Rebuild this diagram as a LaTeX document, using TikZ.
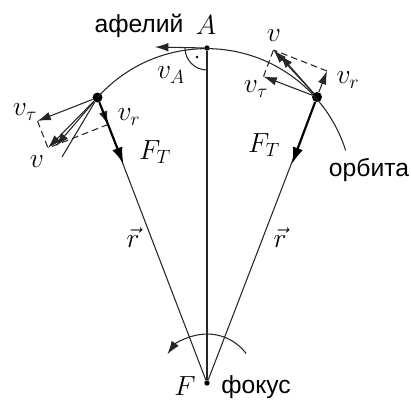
\documentclass[tikz,border=0pt]{standalone}
\usepackage{amsmath}
\usepackage{fontspec}
\newfontfamily\rufont{Liberation Sans}
\usetikzlibrary{arrows.meta,positioning,calc}

\tikzset{
	orb/.style={draw=black!85,line width=0.8pt},
	vec/.style={draw=black!85,line width=0.8pt,-{Latex[length=10pt,width=6.5pt]}},
	force/.style={draw=black,line width=1.6pt,-{Latex[length=12.5pt,width=8pt]}},
	comp/.style={draw=black!85,line width=0.8pt,dash pattern=on 5pt off 3pt},
	mlab/.style={font=\fontsize{22}{26}\selectfont,inner sep=0pt},
	tlab/.style={font=\rufont\fontsize{18.5}{22}\selectfont,inner sep=0pt},
	bigdot/.style={circle,fill=black,inner sep=0pt,minimum size=7.5pt},
	smalldot/.style={circle,fill=black,inner sep=0pt,minimum size=4pt},
	tinydot/.style={circle,fill=black,inner sep=0pt,minimum size=2.2pt}
}

\begin{document}
\begin{tikzpicture}[x=0.75pt,y=-0.75pt]
		
		\useasboundingbox (0,0) rectangle (411,401);
		
		\node[smalldot] (A) at (207,48) {};
		\node[smalldot] (F) at (207,383) {};
		\node[bigdot] (L) at (97.5,97.5) {};
		\node[bigdot] (R) at (317,97) {};
		
		\coordinate (vA) at (155,47);
		\coordinate (vtL) at (37.5,121);
		\coordinate (vrL) at (108,124.5);
		\coordinate (vL) at (48,148);
		\coordinate (wL) at (56,146);
		\coordinate (tL) at (62,157);
		\coordinate (FTL) at (123.5,164);
		\coordinate (vtR) at (263.5,76.5);
		\coordinate (vrR) at (327,71);
		\coordinate (vR) at (273.5,50);
		\coordinate (wR) at (280,55);
		\coordinate (FTR) at (292,164);
		
		\draw[orb] (L.center) arc[start angle=-138.3,end angle=-17.6,radius=146];
		\draw[orb] (A) -- (F);
		\draw[orb] (L) -- (F);
		\draw[orb] (R) -- (F);
		
		\draw[orb] ($(A.center)+(-22,0)$) arc[start angle=180,end angle=90,radius=22];
		\node[tinydot] (RA) at (197,57) {};
		\draw[vec] (A) -- (vA);
		
		\draw[vec] (L) -- (vtL);
		\draw[vec] (L) -- (vrL);
		\draw[vec] (L) -- (vL);
		\draw[vec] (L) -- (wL);
		\draw[orb] (L) -- (tL);
		\draw[comp] (vtL) -- (vL);
		\draw[comp] (vrL) -- (vL);
		\draw[force] (L) -- (FTL);
		
		\draw[vec] (R) -- (vtR);
		\draw[vec] (R) -- (vrR);
		\draw[vec] (R) -- (vR);
		\draw[vec] (R) -- (wR);
		\draw[comp] (vtR) -- (vR);
		\draw[comp] (vrR) -- (vR);
		\draw[force] (R) -- (FTR);
		
		\draw[vec] ($(F.center)+(-37:49)$) arc[start angle=-37,end angle=-144,radius=49];
		
		\node[tlab] (aph) at (139,26) {афелий};
		\node[mlab] (lA) at (206,25) {$A$};
		\node[mlab] (lvA) at (171,75) {$v_A$};
		\node[mlab] (lvtL) at (25,112) {$v_\tau$};
		\node[mlab] (lvL) at (37,162) {$v$};
		\node[mlab] (lvrL) at (129,117) {$v_r$};
		\node[mlab] (lFL) at (155,152) {$F_T$};
		\node[mlab] (lvR) at (274,36) {$v$};
		\node[mlab] (lvtR) at (256,89) {$v_\tau$};
		\node[mlab] (lvrR) at (348,80) {$v_r$};
		\node[mlab] (lFR) at (264,145) {$F_T$};
		\node[tlab] (orbit) at (369,170) {орбита};
		\node[mlab] (lrL) at (133,238) {$\vec{r}$};
		\node[mlab] (lrR) at (280,238) {$\vec{r}$};
		\node[mlab] (lF) at (185,386) {$F$};
		\node[tlab] (foc) at (256,387) {фокус};
		
	\end{tikzpicture}
\end{document}
